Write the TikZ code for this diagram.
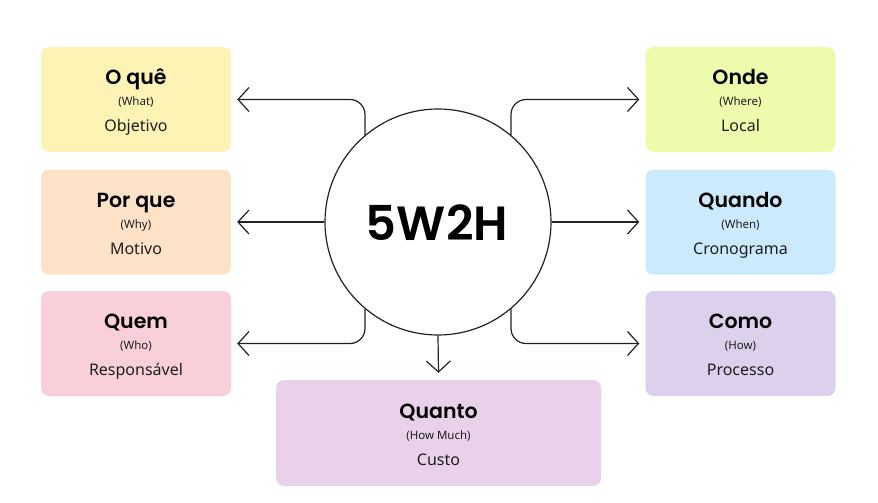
\documentclass[tikz,border=0pt]{standalone}
\usepackage{fontspec}
\setmainfont{Noto Sans}
\newfontfamily\titlefont{Poppins}[BoldFont={Poppins SemiBold}]
\usetikzlibrary{arrows.meta}
\definecolor{cyellow}{HTML}{FCF3B4}
\definecolor{cpeach}{HTML}{FDE2C8}
\definecolor{cpink}{HTML}{F9D0D9}
\definecolor{clime}{HTML}{EDFCAC}
\definecolor{cblue}{HTML}{CBEBFD}
\definecolor{clav}{HTML}{DDD0EC}
\definecolor{cmauve}{HTML}{E9D1EA}
\definecolor{cline}{HTML}{222222}
\definecolor{ctext}{HTML}{1E1E1E}
\tikzset{
  card/.style={rounded corners=8pt, minimum width=190pt, minimum height=105pt, inner sep=0pt},
  ttl/.style={anchor=base, inner sep=0pt, font=\titlefont\bfseries\fontsize{20.5}{22}\selectfont},
  sub/.style={anchor=base, inner sep=0pt, text=ctext, font=\fontsize{11.5}{12}\selectfont},
  bod/.style={anchor=base, inner sep=0pt, text=ctext, font=\fontsize{16}{17}\selectfont},
  conn/.style={draw=cline, line width=1.2pt, rounded corners=15pt, -{Straight Barb[length=11pt,width=24pt]}},
}
\newcommand{\cardtexts}[4]{%
  \node[ttl] (#1t) at ([yshift=15pt]#1.center) {#2};
  \node[sub] (#1s) at ([yshift=-6pt]#1.center) {(#3)};
  \node[bod] (#1b) at ([yshift=-32pt]#1.center) {#4};}
\begin{document}
\begin{tikzpicture}[x=1pt,y=-1pt]
\useasboundingbox (0,0) rectangle (878,503);
\fill[white] (0,0) rectangle (878,503);
% cards
\node[card, fill=cyellow] (q1) at (136,99.5) {};
\node[card, fill=cpeach] (q2) at (136,222) {};
\node[card, fill=cpink] (q3) at (136,343.5) {};
\node[card, fill=clime] (q4) at (740.5,99.5) {};
\node[card, fill=cblue] (q5) at (740.5,222) {};
\node[card, fill=clav] (q6) at (740.5,343.5) {};
\node[card, fill=cmauve, minimum width=325pt, minimum height=106pt] (q7) at (438.5,433) {};
\cardtexts{q1}{O quê}{What}{Objetivo}
\cardtexts{q2}{Por que}{Why}{Motivo}
\cardtexts{q3}{Quem}{Who}{Responsável}
\cardtexts{q4}{Onde}{Where}{Local}
\cardtexts{q5}{Quando}{When}{Cronograma}
\cardtexts{q6}{Como}{How}{Processo}
\cardtexts{q7}{Quanto}{How Much}{Custo}
% centre
\node[circle, draw=cline, line width=1.2pt, minimum size=226pt, inner sep=0pt, fill=white] (c) at (438,222) {};
\node[anchor=base, inner sep=0pt, font=\titlefont\bfseries\fontsize{48}{48}\selectfont] (t) at (437,240) {5W2H};
% connectors
\draw[conn] (c.130) |- ([xshift=6pt]q1.east);
\draw[conn] (c.west) -- ([xshift=6pt]q2.east);
\draw[conn] (c.230) |- ([xshift=6pt]q3.east);
\draw[conn] (c.50) |- ([xshift=-6pt]q4.west);
\draw[conn] (c.east) -- ([xshift=-6pt]q5.west);
\draw[conn] (c.310) |- ([xshift=-6pt]q6.west);
\draw[conn] (c.south) -- ([yshift=7pt]q7.north);
\end{tikzpicture}
\end{document}
